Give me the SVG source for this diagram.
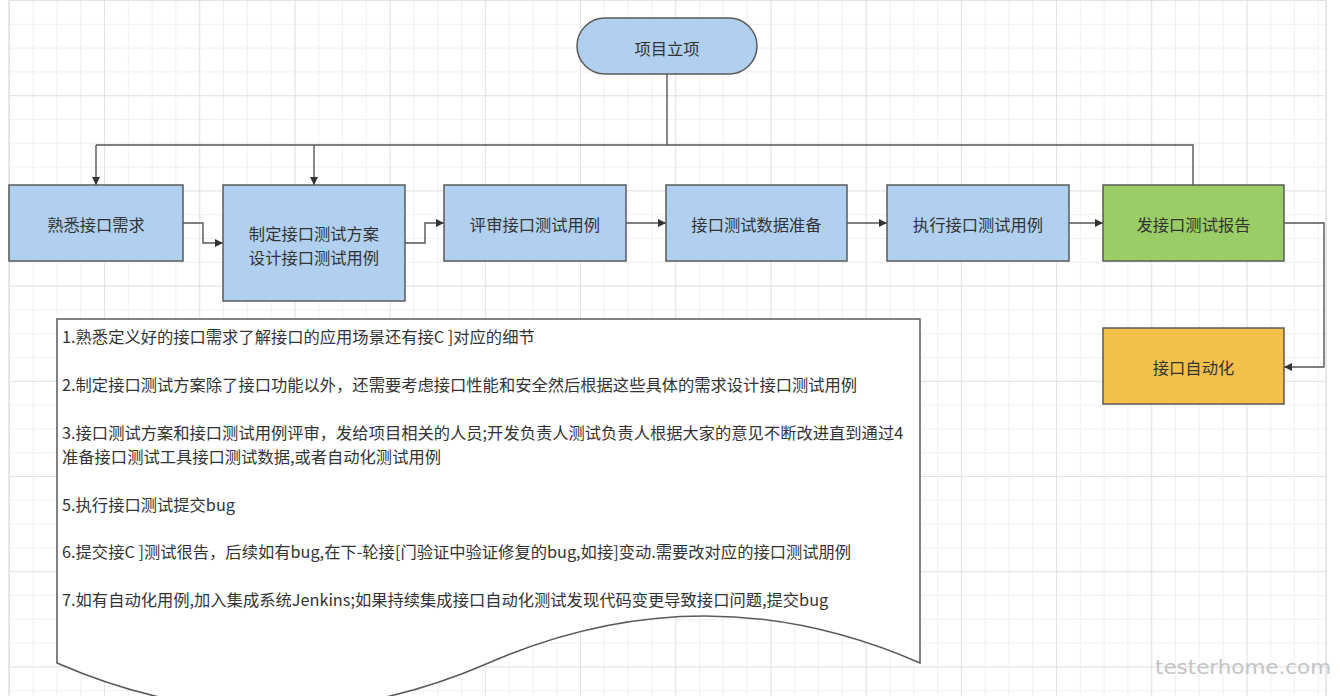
<svg xmlns="http://www.w3.org/2000/svg" width="1340" height="696" viewBox="0 0 1340 696">
<style>
.box{stroke:#5a5a5a;stroke-width:1.5}
.blue{fill:#b1d0ef}
.green{fill:#9acd65}
.orange{fill:#f3c14a}
.lbl{font-family:"Noto Sans CJK SC","Noto Sans",sans-serif;font-size:16.3px;fill:#333;text-anchor:middle;dominant-baseline:central}
.doc{font-family:"Noto Sans CJK SC","Noto Sans",sans-serif;font-size:16.3px;fill:#333}
.con{fill:none;stroke:#555;stroke-width:1.4}
</style>
<defs>
<pattern id="minor" patternUnits="userSpaceOnUse" x="8.8" y="0" width="23.8" height="23.8">
<path d="M0,0 H23.8 M0,0 V23.8" fill="none" stroke="#ebebeb" stroke-width="1.5"/>
</pattern>
<pattern id="major" patternUnits="userSpaceOnUse" x="8.8" y="0" width="95.2" height="95.2">
<path d="M0,0 H95.2 M0,0 V95.2" fill="none" stroke="#e0e0e0" stroke-width="1.5"/>
</pattern>
<marker id="arr" viewBox="0 0 10 10" refX="10" refY="5" markerWidth="8" markerHeight="8" markerUnits="userSpaceOnUse" orient="auto">
<path d="M0,0 L10,5 L0,10 Z" fill="#333"/>
</marker>
</defs>
<rect x="0" y="0" width="1340" height="696" fill="#ffffff"/>
<rect x="9" y="0" width="1317" height="696" fill="url(#minor)"/>
<rect x="9" y="0" width="1317" height="696" fill="url(#major)"/>
<line x1="9" y1="0" x2="9" y2="696" stroke="#e0e0e0" stroke-width="1.5"/>
<line x1="1326" y1="0" x2="1326" y2="696" stroke="#e0e0e0" stroke-width="1.5"/>

<g id="connectors">
<path class="con" d="M667,74 V145"/>
<path class="con" d="M96,145 H1193 V185"/>
<path class="con" d="M96,145 V185" marker-end="url(#arr)"/>
<path class="con" d="M314,145 V185" marker-end="url(#arr)"/>
<path class="con" d="M183,223 H203 V243 H223" marker-end="url(#arr)"/>
<path class="con" d="M405,243 H425 V223 H444" marker-end="url(#arr)"/>
<path class="con" d="M626,223 H666" marker-end="url(#arr)"/>
<path class="con" d="M847,223 H887" marker-end="url(#arr)"/>
<path class="con" d="M1069,223 H1103" marker-end="url(#arr)"/>
<path class="con" d="M1284,223 H1324 V367 H1284" marker-end="url(#arr)"/>
</g>

<g id="n-start">
<rect class="box blue" x="577" y="18" width="180" height="56" rx="28"/>
<text class="lbl" x="667" y="48">项目立项</text>
</g>
<g id="n1">
<rect class="box blue" x="9" y="185" width="174" height="76"/>
<text class="lbl" x="96" y="224">熟悉接口需求</text>
</g>
<g id="n2">
<rect class="box blue" x="223" y="185" width="182" height="116"/>
<text class="lbl" x="314" y="233">制定接口测试方案</text>
<text class="lbl" x="314" y="257">设计接口测试用例</text>
</g>
<g id="n3">
<rect class="box blue" x="444" y="185" width="182" height="76"/>
<text class="lbl" x="535" y="224">评审接口测试用例</text>
</g>
<g id="n4">
<rect class="box blue" x="666" y="185" width="181" height="76"/>
<text class="lbl" x="756.5" y="224">接口测试数据准备</text>
</g>
<g id="n5">
<rect class="box blue" x="887" y="185" width="182" height="76"/>
<text class="lbl" x="978" y="224">执行接口测试用例</text>
</g>
<g id="n6">
<rect class="box green" x="1103" y="185" width="181" height="76"/>
<text class="lbl" x="1193.5" y="224">发接口测试报告</text>
</g>
<g id="n7">
<rect class="box orange" x="1103" y="328" width="181" height="76"/>
<text class="lbl" x="1193.5" y="367">接口自动化</text>
</g>

<g id="note">
<path d="M57,319 H920 V663 Q704.75,569 488.5,663 Q272.25,757 57,663 Z" fill="#ffffff" stroke="#5a5a5a" stroke-width="1.5"/>
<text class="doc" x="62" y="343">1.熟悉定义好的接口需求了解接口的应用场景还有接C ]对应的细节</text>
<text class="doc" x="62" y="391">2.制定接口测试方案除了接口功能以外，还需要考虑接口性能和安全然后根据这些具体的需求设计接口测试用例</text>
<text class="doc" x="62" y="439">3.接口测试方案和接口测试用例评审，发给项目相关的人员;开发负责人测试负责人根据大家的意见不断改进直到通过4</text>
<text class="doc" x="62" y="463">准备接口测试工具接口测试数据,或者自动化测试用例</text>
<text class="doc" x="62" y="511">5.执行接口测试提交bug</text>
<text class="doc" x="62" y="558">6.提交接C ]测试很告，后续如有bug,在下-轮接[门验证中验证修复的bug,如接]变动.需要改对应的接口测试朋例</text>
<text class="doc" x="62" y="606">7.如有自动化用例,加入集成系统Jenkins;如果持续集成接口自动化测试发现代码变更导致接口问题,提交bug</text>
</g>

<text x="1155" y="674" font-family="'DejaVu Sans',sans-serif" font-size="20" fill="#c4c4c4" textLength="176" lengthAdjust="spacingAndGlyphs">testerhome.com</text>
</svg>
